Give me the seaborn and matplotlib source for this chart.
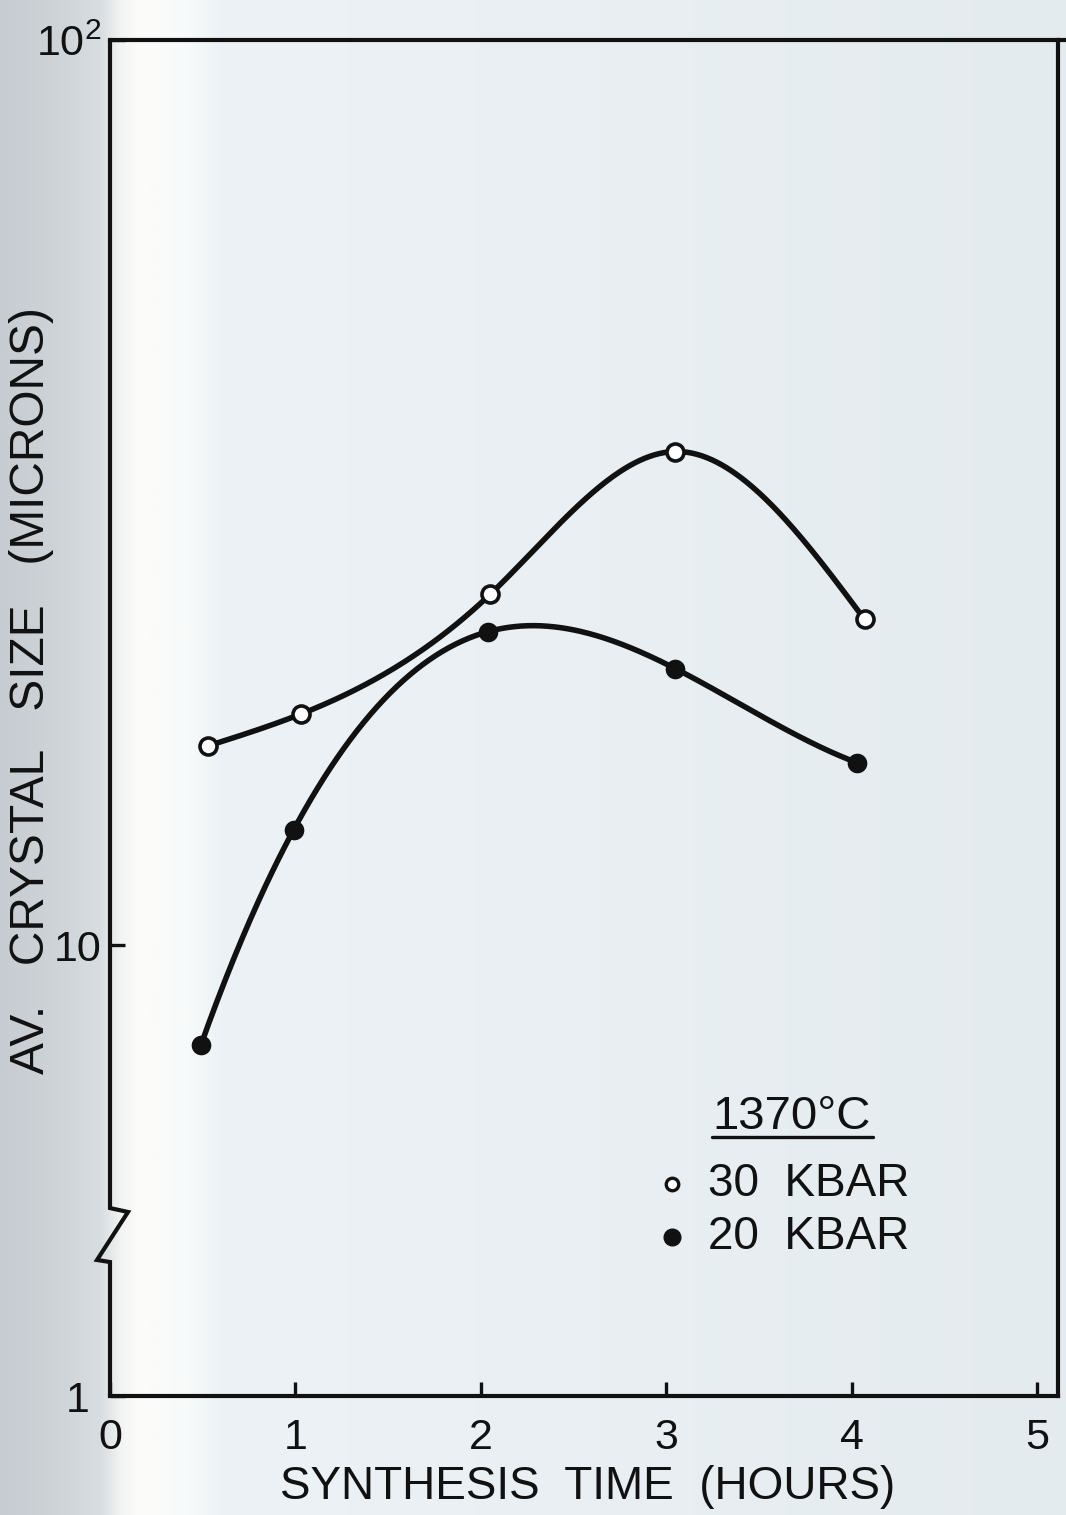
import numpy as np
import matplotlib
matplotlib.use("Agg")
import matplotlib.pyplot as plt
import seaborn as sns
import pandas as pd

# ---- data -------------------------------------------------------------
hours_30kbar = [0.53, 1.03, 2.05, 3.05, 4.07]
size_30kbar = [16.6, 18.0, 24.4, 35.1, 22.9]

hours_20kbar = [0.49, 0.99, 2.04, 3.05, 4.03]
size_20kbar = [7.75, 13.4, 22.2, 20.2, 15.9]

x_ticks = [0, 1, 2, 3, 4, 5]
x_ticklabels = ["0", "1", "2", "3", "4", "5"]
y_ticks = [1, 10, 100]
y_ticklabels = ["1 ", "10", r"$\mathregular{10^2}$"]

legend_title = "1370°C"
series_names = ["30  KBAR", "20  KBAR"]

# ---- style ------------------------------------------------------------
sns.set_theme(style="white")
plt.rcParams["font.family"] = ["Liberation Sans", "DejaVu Sans"]
plt.rcParams["mathtext.fontset"] = "custom"
plt.rcParams["mathtext.rm"] = "Liberation Sans"
INK = "#111111"

W, H = 1066, 1515
fig = plt.figure(figsize=(W / 100, H / 100), dpi=100)

# paper tone behind the drawing (darker margin at the left, pale band near the axis)
stops_px = [0, 60, 100, 120, 138, 190, 220, 600, 1066]
stops_rgb = np.array([
    [198, 204, 209], [206, 212, 216], [216, 221, 225], [242, 243, 242],
    [252, 252, 250], [247, 250, 250], [236, 242, 245], [233, 239, 242],
    [228, 235, 238]]) / 255.0
cols = np.arange(W)
row = np.stack([np.interp(cols, stops_px, stops_rgb[:, k]) for k in range(3)], axis=1)
bg = fig.add_axes([0, 0, 1, 1], zorder=-5)
bg.imshow(np.repeat(row[None, :, :], 4, axis=0), aspect="auto",
          extent=[0, 1, 0, 1], interpolation="bilinear")
bg.set_xlim(0, 1)
bg.set_ylim(0, 1)
bg.axis("off")

# axes frame position in pixels
L, R, B, T = 110, 1058, 1396, 40
ax = fig.add_axes([L / W, 1 - B / H, (R - L) / W, (B - T) / H])
ax.set_zorder(1)
ax.patch.set_alpha(0)

# broken logarithmic y scale: full decades above the break, compressed below it
T_ONE = 0.5017     # scale position of y = 1
LOG_BREAK = 0.6497  # log10 of the value where the break sits


def fwd(y):
    ly = np.log10(np.clip(np.asarray(y, dtype=float), 1e-6, None))
    return np.where(ly >= LOG_BREAK, ly, T_ONE + ly * (LOG_BREAK - T_ONE) / LOG_BREAK)


def inv(t):
    t = np.asarray(t, dtype=float)
    ly = np.where(t >= LOG_BREAK, t, (t - T_ONE) * LOG_BREAK / (LOG_BREAK - T_ONE))
    return 10.0 ** ly


ax.set_yscale("function", functions=(fwd, inv))


def cubic_spline(x, y, xs, ends="natural"):
    """Cubic spline through (x, y) evaluated at xs ('natural' or 'not-a-knot' ends)."""
    x = np.asarray(x, float)
    y = np.asarray(y, float)
    n = len(x)
    h = np.diff(x)
    A = np.zeros((n, n))
    b = np.zeros(n)
    if ends == "natural":
        A[0, 0] = A[-1, -1] = 1.0
    else:
        A[0, 0], A[0, 1], A[0, 2] = h[1], -(h[0] + h[1]), h[0]
        A[-1, -3], A[-1, -2], A[-1, -1] = h[-1], -(h[-2] + h[-1]), h[-2]
    for i in range(1, n - 1):
        A[i, i - 1] = h[i - 1]
        A[i, i] = 2 * (h[i - 1] + h[i])
        A[i, i + 1] = h[i]
        b[i] = 3 * ((y[i + 1] - y[i]) / h[i] - (y[i] - y[i - 1]) / h[i - 1])
    c = np.linalg.solve(A, b)
    bc = (y[1:] - y[:-1]) / h - h * (2 * c[:-1] + c[1:]) / 3
    d = (c[1:] - c[:-1]) / (3 * h)
    idx = np.clip(np.searchsorted(x, xs) - 1, 0, n - 2)
    dx = xs - x[idx]
    return y[idx] + bc[idx] * dx + c[idx] * dx ** 2 + d[idx] * dx ** 3


def smooth_curve(hours, sizes, ends):
    xs = np.linspace(hours[0], hours[-1], 400)
    ys = 10 ** cubic_spline(hours, np.log10(sizes), xs, ends)
    return pd.DataFrame({"hours": xs, "size": ys})


for hrs, sz, ends in [(hours_30kbar, size_30kbar, "natural"),
                      (hours_20kbar, size_20kbar, "not-a-knot")]:
    sns.lineplot(data=smooth_curve(hrs, sz, ends), x="hours", y="size", ax=ax,
                 color=INK, lw=4.0, sort=False, estimator=None, zorder=3)

pts30 = pd.DataFrame({"hours": hours_30kbar, "size": size_30kbar})
pts20 = pd.DataFrame({"hours": hours_20kbar, "size": size_20kbar})
sns.scatterplot(data=pts30, x="hours", y="size", ax=ax, s=150, marker="o",
                facecolor="white", edgecolor=INK, linewidth=2.6, zorder=4)
sns.scatterplot(data=pts20, x="hours", y="size", ax=ax, s=200, marker="o",
                color=INK, edgecolor=INK, linewidth=0, zorder=4)

ax.set_xlim(0, (R - L) / 185.4)
ax.set_ylim(1, 100)

# frame
for side in ["top", "right", "bottom"]:
    ax.spines[side].set_visible(True)
    ax.spines[side].set_linewidth(3.0)
    ax.spines[side].set_color(INK)
ax.spines["left"].set_visible(False)

# left axis drawn with a zig-zag break
zz_x = [0, 0, -0.0137, 0.019, 0.0, 0.0]
zz_y = [0, 0.0988, 0.1003, 0.1357, 0.1386, 1.0]
ax.plot(zz_x, zz_y, transform=ax.transAxes, color=INK, lw=3.0,
        clip_on=False, solid_joinstyle="miter", zorder=5)
# top rule runs on to the paper edge
ax.plot([1.0, (W - L) / (R - L)], [1.0, 1.0], transform=ax.transAxes,
        color=INK, lw=3.0, clip_on=False, zorder=5)

# ticks
ax.set_xticks(x_ticks)
ax.set_xticklabels(x_ticklabels)
ax.set_yticks(y_ticks)
ax.set_yticklabels(y_ticklabels)
ax.yaxis.set_minor_locator(matplotlib.ticker.NullLocator())
ax.tick_params(axis="x", direction="in", length=10, width=2.4, color=INK,
               labelsize=31, labelcolor=INK, pad=16, bottom=True)
ax.tick_params(axis="y", direction="in", length=11, width=2.4, color=INK,
               labelsize=31, labelcolor=INK, pad=6, left=True)

# axis titles
ax.set_xlabel("SYNTHESIS  TIME  (HOURS)", fontsize=33, color=INK)
ax.set_ylabel("AV.   CRYSTAL   SIZE   (MICRONS)", fontsize=34.5, color=INK)
ax.xaxis.set_label_coords((588 - L) / (R - L), (B - 1465) / (B - T))
ax.yaxis.set_label_coords((54 - L) / (R - L), (B - 690) / (B - T))


def axfrac(px, py):
    return (px - L) / (R - L), (B - py) / (B - T)


# key
tx, ty = axfrac(712, 1117)
ax.text(tx, ty, legend_title, transform=ax.transAxes, fontsize=34,
        color=INK, ha="left", va="center")
u0, uy = axfrac(712, 1137)
u1, _ = axfrac(873, 1137)
ax.plot([u0, u1], [uy, uy], transform=ax.transAxes, color=INK, lw=2.4, clip_on=False)

mx, my1 = axfrac(672, 1184)
_, my2 = axfrac(672, 1237)
lx, _ = axfrac(708, 0)
ax.plot([mx], [my1], transform=ax.transAxes, marker="o", ms=9, mfc="white",
        mec=INK, mew=2.4, ls="none", clip_on=False)
ax.plot([mx], [my2], transform=ax.transAxes, marker="o", ms=12, mfc=INK,
        mec=INK, ls="none", clip_on=False)
ax.text(lx, my1, series_names[0], transform=ax.transAxes, fontsize=33,
        color=INK, ha="left", va="center")
ax.text(lx, my2, series_names[1], transform=ax.transAxes, fontsize=33,
        color=INK, ha="left", va="center")

fig.savefig("out.png", dpi=100)
